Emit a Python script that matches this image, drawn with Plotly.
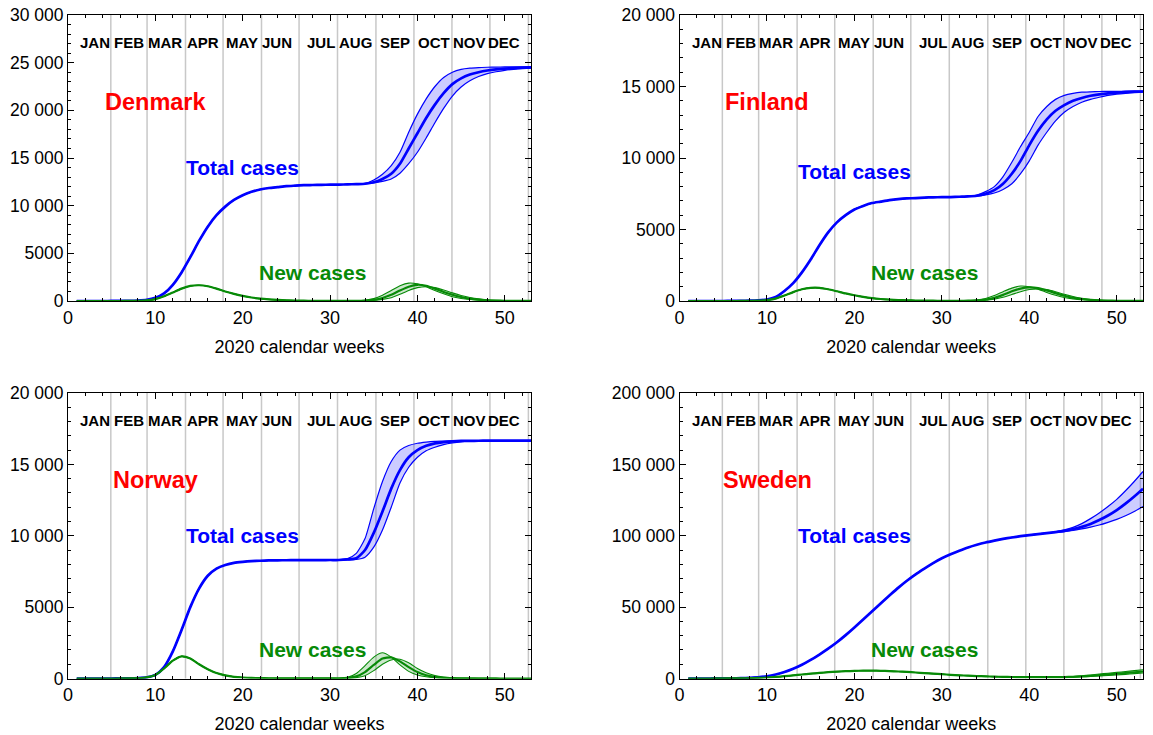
import plotly.graph_objects as go

weeks = list(range(1, 54))

# month boundaries (calendar week positions) and month labels
month_lines = [4.9, 9.05, 13.45, 17.75, 22.15, 26.45, 30.85, 35.25, 39.6, 43.95, 48.3, 52.7]
month_names = ["JAN", "FEB", "MAR", "APR", "MAY", "JUN", "JUL", "AUG", "SEP", "OCT", "NOV", "DEC"]
month_label_x = [3.1, 7.0, 11.05, 15.5, 19.95, 23.9, 28.95, 32.95, 37.45, 41.95, 46.0, 49.95]

# ---------------- Denmark ----------------
dk_total_mid = [0, 0, 0, 0, 5, 10, 20, 50,
                120, 330, 800, 1700, 3000, 4600, 6300, 7800, 9000, 9900, 10600, 11100, 11450, 11700,
                11850, 11950, 12050, 12100, 12150, 12170, 12190, 12200, 12210, 12230, 12260,
                12300, 12450, 12800, 13350, 14400, 16000, 17600, 19200, 20600, 21800, 22750, 23350,
                23750, 24000, 24180, 24300, 24380, 24430, 24470, 24500]
dk_band_start = 34
dk_total_hi_tail = [12330, 12700, 13300, 14200, 15600, 17700, 19600, 21200, 22500, 23450, 24000,
                    24300, 24430, 24490, 24520, 24540, 24550, 24560, 24560, 24560]
dk_total_lo_tail = [12280, 12380, 12550, 12800, 13400, 14400, 15600, 17100, 18700, 20200, 21500,
                    22450, 23100, 23550, 23850, 24050, 24200, 24300, 24370, 24420]
dk_new_mid = [0, 0, 0, 0, 0, 2, 5, 15,
              60, 200, 500, 900, 1300, 1580, 1650, 1550, 1300, 1000, 750, 530, 370, 250, 170, 110,
              70, 45, 30, 22, 18, 15, 15, 15, 20,
              50, 130, 320, 650, 1100, 1500, 1700, 1600, 1300, 950, 650, 420, 250, 150, 80, 45, 25,
              15, 8, 5]
dk_new_hi_tail = [80, 250, 600, 1100, 1600, 1880, 1800, 1500, 1100, 750, 450, 270, 150, 80, 45, 25,
                  15, 10, 5, 3]
dk_new_lo_tail = [30, 70, 170, 350, 700, 1100, 1400, 1500, 1400, 1150, 850, 580, 370, 220, 130, 70,
                  40, 22, 12, 7]

# ---------------- Finland ----------------
fi_total_mid = [0, 0, 0, 0, 0, 5, 10, 20,
                40, 100, 280, 700, 1250, 2000, 2900, 3900, 4800, 5500, 6000, 6400, 6650, 6850, 6950,
                7050, 7120, 7170, 7200, 7230, 7250, 7260, 7270, 7290, 7310,
                7360, 7500, 7750, 8200, 8900, 9800, 10900, 11900, 12700, 13300, 13700, 14000, 14200,
                14350, 14450, 14520, 14570, 14610, 14640, 14650]
fi_band_start = 34
fi_total_hi_tail = [7400, 7650, 8000, 8700, 9700, 10800, 11800, 12900, 13600, 14100, 14380, 14520,
                    14600, 14630, 14650, 14660, 14665, 14670, 14670, 14670]
fi_total_lo_tail = [7340, 7420, 7550, 7800, 8200, 8900, 9800, 10900, 11800, 12600, 13200, 13600,
                    13900, 14100, 14250, 14380, 14460, 14520, 14570, 14600]
fi_new_mid = [0, 0, 0, 0, 0, 1, 3, 8,
              20, 60, 170, 380, 620, 820, 920, 920, 820, 680, 530, 400, 290, 200, 140, 100, 70, 50,
              35, 25, 20, 18, 18, 18, 20,
              40, 100, 230, 430, 680, 870, 950, 900, 740, 550, 370, 230, 140, 80, 45, 25, 15, 9, 5, 3]
fi_new_hi_tail = [60, 170, 380, 650, 900, 1050, 1000, 830, 600, 400, 250, 150, 85, 50, 30, 18, 10,
                  6, 4, 2]
fi_new_lo_tail = [30, 60, 130, 260, 450, 650, 800, 850, 800, 650, 470, 310, 190, 110, 65, 38, 22,
                  13, 8, 5]

# ---------------- Norway ----------------
no_total_mid = [0, 0, 0, 0, 0, 5, 10,
                30, 80, 250, 800, 1900, 3400, 5000, 6300, 7200, 7700, 7950, 8100, 8170, 8220, 8250,
                8270, 8280, 8285, 8290, 8290, 8295, 8295, 8300,
                8300, 8340, 8420, 9000, 10200, 11700, 13300, 14600, 15500, 16000, 16300, 16470,
                16560, 16610, 16640, 16650, 16655, 16660, 16660, 16660, 16660, 16660, 16660]
no_band_start = 31
no_total_hi_tail = [8310, 8400, 8770, 9800, 11900, 13800, 15200, 16000, 16320, 16480, 16560, 16610,
                    16630, 16650, 16660, 16665, 16665, 16665, 16665, 16665, 16665, 16665, 16665]
no_total_lo_tail = [8295, 8310, 8340, 8500, 9200, 10400, 12000, 13700, 14800, 15500, 15950, 16200,
                    16380, 16500, 16580, 16620, 16640, 16650, 16655, 16660, 16660, 16660, 16660]
no_new_mid = [0, 0, 0, 0, 0, 2, 5,
              20, 80, 250, 700, 1250, 1550, 1400, 1000, 650, 380, 220, 120, 70, 40, 25, 15, 12, 10,
              8, 8, 8, 8, 8,
              10, 40, 150, 450, 950, 1400, 1480, 1200, 800, 450, 230, 110, 50, 25, 12, 6, 3, 2, 2,
              1, 1, 1, 1]
no_new_hi_tail = [20, 80, 350, 900, 1500, 1800, 1500, 950, 500, 250, 120, 60, 30, 15, 8, 4, 2, 1,
                  1, 1, 1, 1, 1]
no_new_lo_tail = [5, 20, 60, 200, 550, 1000, 1300, 1350, 1100, 700, 400, 200, 95, 45, 20, 10, 5, 3,
                  2, 1, 1, 1, 1]

# ---------------- Sweden ----------------
se_total_mid = [0, 0, 10, 20, 50, 100, 200, 450, 900, 1600, 2800, 4500, 6800, 9600, 13000, 16800,
                20900, 25400, 30400, 35800, 41400, 47000, 52600, 58100, 63500, 68500, 73000, 77000,
                80800, 84200, 87000, 89500, 91800, 93700, 95300, 96600, 97800, 98800, 99700,
                100500, 101200, 101900, 102600, 103400, 104600, 106200, 108300, 111000, 114200,
                118000, 122500, 127500, 133000]
se_band_start = 41
se_total_hi_tail = [101300, 102000, 102800, 104100, 105900, 108500, 112000, 116000, 120500, 125500,
                    131500, 138000, 145000]
se_total_lo_tail = [101100, 101800, 102400, 102900, 103700, 104800, 106000, 107500, 109400, 111500,
                    114000, 117000, 120500]
se_new_mid = [0, 0, 10, 20, 40, 70, 120,
              200, 400, 700, 1100, 1600, 2200, 2800, 3400, 3900, 4400, 4800, 5100, 5350, 5500, 5500,
              5400, 5200, 4900, 4600, 4200, 3800, 3400, 3000, 2600, 2250, 1950, 1700, 1500, 1300,
              1150, 1050, 980, 950, 920, 920, 950, 1000, 1200, 1500, 1900, 2350, 2850, 3350, 3850,
              4350, 4900]
se_new_hi_tail = [940, 960, 1000, 1150, 1450, 1900, 2500, 3100, 3700, 4300, 4900, 5500, 6100]
se_new_lo_tail = [900, 880, 900, 900, 1000, 1200, 1450, 1750, 2100, 2500, 2900, 3400, 3900]

# y axis ticks
dk_yticks = [0, 5000, 10000, 15000, 20000, 25000, 30000]
fi_yticks = [0, 5000, 10000, 15000, 20000]
no_yticks = [0, 5000, 10000, 15000, 20000]
se_yticks = [0, 50000, 100000, 150000, 200000]
x_ticks = [0, 10, 20, 30, 40, 50]

BLUE = "#0000ff"
GREEN = "#078a07"
RED = "#ff0000"
FONT = "Liberation Sans, Arial, sans-serif"


def band(mid, start, tail):
    return mid[:start - 1] + tail


def fmt(v):
    s = str(v)
    if v >= 10000:
        s = s[:-3] + " " + s[-3:]
    return s


panels = [
    dict(name="Denmark", xa="x", ya="y", mid=dk_total_mid, start=dk_band_start,
         hi=dk_total_hi_tail, lo=dk_total_lo_tail, nmid=dk_new_mid, nhi=dk_new_hi_tail,
         nlo=dk_new_lo_tail, yt=dk_yticks, minor=1000),
    dict(name="Finland", xa="x2", ya="y2", mid=fi_total_mid, start=fi_band_start,
         hi=fi_total_hi_tail, lo=fi_total_lo_tail, nmid=fi_new_mid, nhi=fi_new_hi_tail,
         nlo=fi_new_lo_tail, yt=fi_yticks, minor=1000),
    dict(name="Norway", xa="x3", ya="y3", mid=no_total_mid, start=no_band_start,
         hi=no_total_hi_tail, lo=no_total_lo_tail, nmid=no_new_mid, nhi=no_new_hi_tail,
         nlo=no_new_lo_tail, yt=no_yticks, minor=1000),
    dict(name="Sweden", xa="x4", ya="y4", mid=se_total_mid, start=se_band_start,
         hi=se_total_hi_tail, lo=se_total_lo_tail, nmid=se_new_mid, nhi=se_new_hi_tail,
         nlo=se_new_lo_tail, yt=se_yticks, minor=10000),
]

W, H = 1153, 735
x_domains = [[68 / W, 531 / W], [679.5 / W, 1143 / W], [68 / W, 531 / W], [679.5 / W, 1143 / W]]
y_domains = [[1 - 301 / H, 1 - 15 / H], [1 - 301 / H, 1 - 15 / H],
             [1 - 678.5 / H, 1 - 393 / H], [1 - 678.5 / H, 1 - 393 / H]]

fig = go.Figure()
layout = {}
annotations = []
shapes = []

for i, p in enumerate(panels):
    xa, ya = p["xa"], p["ya"]
    common = dict(x=weeks, mode="lines", xaxis=xa, yaxis=ya, showlegend=False, hoverinfo="skip")
    # total cases band + line
    fig.add_trace(go.Scatter(y=band(p["mid"], p["start"], p["lo"]),
                             line=dict(color=BLUE, width=1.2, shape="spline", smoothing=0.6), **common))
    fig.add_trace(go.Scatter(y=band(p["mid"], p["start"], p["hi"]), fill="tonexty",
                             fillcolor="rgba(0,0,255,0.2)",
                             line=dict(color=BLUE, width=1.2, shape="spline", smoothing=0.6), **common))
    fig.add_trace(go.Scatter(y=p["mid"],
                             line=dict(color=BLUE, width=2.7, shape="spline", smoothing=0.6), **common))
    # new cases band + line
    fig.add_trace(go.Scatter(y=band(p["nmid"], p["start"], p["nlo"]),
                             line=dict(color=GREEN, width=1.1, shape="spline", smoothing=0.6), **common))
    fig.add_trace(go.Scatter(y=band(p["nmid"], p["start"], p["nhi"]), fill="tonexty",
                             fillcolor="rgba(0,140,0,0.2)",
                             line=dict(color=GREEN, width=1.1, shape="spline", smoothing=0.6), **common))
    fig.add_trace(go.Scatter(y=p["nmid"],
                             line=dict(color=GREEN, width=2.2, shape="spline", smoothing=0.6), **common))

    sfx = "" if i == 0 else str(i + 1)
    layout["xaxis" + sfx] = dict(
        domain=x_domains[i], anchor=ya, range=[0, 53], tickmode="array", tickvals=x_ticks,
        ticks="inside", ticklen=6, tickwidth=1, tickcolor="black",
        showline=True, linecolor="black", linewidth=1, mirror="allticks",
        showgrid=False, zeroline=False, automargin=False,
        minor=dict(tickmode="linear", tick0=0, dtick=2, ticks="inside", ticklen=3,
                   tickwidth=1, tickcolor="black", showgrid=False),
        tickfont=dict(family=FONT, size=18, color="black"),
        title=dict(text="2020 calendar weeks", font=dict(family=FONT, size=18, color="black"),
                   standoff=13),
    )
    yr = p["yt"][-1]
    layout["yaxis" + sfx] = dict(
        domain=y_domains[i], anchor=xa, range=[0, yr], tickmode="array", tickvals=p["yt"],
        ticktext=[fmt(v) for v in p["yt"]],
        ticks="inside", ticklen=6, tickwidth=1, tickcolor="black",
        showline=True, linecolor="black", linewidth=1, mirror="allticks",
        showgrid=False, zeroline=False, automargin=False,
        minor=dict(tickmode="linear", tick0=0, dtick=p["minor"], ticks="inside", ticklen=3,
                   tickwidth=1, tickcolor="black", showgrid=False),
        tickfont=dict(family=FONT, size=17.5, color="black"),
    )

    for mx in month_lines:
        shapes.append(dict(type="line", xref=xa, yref=ya + " domain", x0=mx, x1=mx, y0=0, y1=1,
                           line=dict(color="#c8c8c8", width=1.5), layer="below"))
    for mname, mx in zip(month_names, month_label_x):
        annotations.append(dict(text="<b>" + mname + "</b>", x=mx, y=0.905, xref=xa,
                                yref=ya + " domain", showarrow=False, xanchor="center",
                                yanchor="middle",
                                font=dict(family=FONT, size=15, color="black")))
    top_row = i < 2
    annotations.append(dict(text="<b>" + p["name"] + "</b>", x=10.05,
                            y=0.697 if top_row else 0.695, xref=xa, yref=ya + " domain",
                            showarrow=False, xanchor="center", yanchor="middle",
                            font=dict(family=FONT, size=23.5, color=RED)))
    tot_y = {0: 0.4675, 1: 0.452, 2: 0.5, 3: 0.5}[i]
    annotations.append(dict(text="<b>Total cases</b>", x=20.0, y=tot_y, xref=xa,
                            yref=ya + " domain", showarrow=False, xanchor="center",
                            yanchor="middle",
                            font=dict(family=FONT, size=21, color=BLUE)))
    annotations.append(dict(text="<b>New cases</b>", x=28.0, y=0.1, xref=xa,
                            yref=ya + " domain", showarrow=False, xanchor="center",
                            yanchor="middle",
                            font=dict(family=FONT, size=21, color=GREEN)))

fig.update_layout(
    width=W, height=H, margin=dict(l=0, r=0, t=0, b=0),
    paper_bgcolor="white", plot_bgcolor="white",
    font=dict(family=FONT, color="black"),
    annotations=annotations, shapes=shapes, showlegend=False,
    **layout,
)

fig.write_html("out.html")
